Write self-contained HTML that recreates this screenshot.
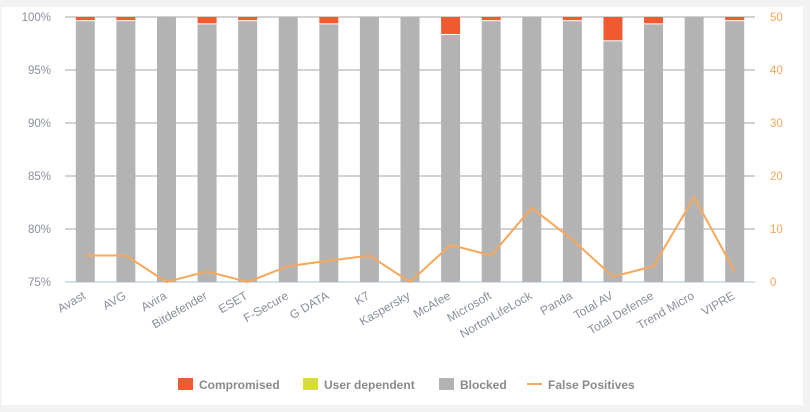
<!DOCTYPE html>
<html><head><meta charset="utf-8"><style>
html,body{margin:0;padding:0;background:#f2f2f2;}
svg{display:block;}
text{font-family:"Liberation Sans",sans-serif;}
</style></head><body>
<svg width="810" height="412" xmlns="http://www.w3.org/2000/svg">
<rect x="2" y="7" width="801" height="398" fill="#fff"/>
<g id="g"></g>
</svg>
<script>
const names=["Avast","AVG","Avira","Bitdefender","ESET","F-Secure","G DATA","K7","Kaspersky","McAfee","Microsoft","NortonLifeLock","Panda","Total AV","Total Defense","Trend Micro","VIPRE"];
const comp=[0.3,0.3,0,0.6,0.3,0,0.6,0,0,1.6,0.3,0,0.3,2.2,0.6,0,0.3];
const fp=[5,5,0,2,0,3,4,5,0,7,5,14,8,1,3,16,2];
const X0=65,X1=755,Y0=17,Y1=282,step=(X1-X0)/17,bw=19;
let s='';
for(let i=0;i<6;i++){const y=Y0+i*(Y1-Y0)/5;
 if(i<5)s+=`<line x1="${X0}" x2="${X1}" y1="${y}" y2="${y}" stroke="#c4c4c4" stroke-width="1.5"/>`;
 s+=`<text x="51" y="${y+4}" text-anchor="end" font-size="11.5" fill="#8a8f9c">${100-5*i}%</text>`;
 s+=`<text x="770" y="${y+4}" font-size="11.5" fill="#f5a55a">${50-10*i}</text>`;}
s+=`<line x1="${X0}" x2="${X1}" y1="${Y1}" y2="${Y1}" stroke="#c8d6e5" stroke-width="1.5"/>`;
const k=(Y1-Y0)/25;
let pts=[];
names.forEach((n,i)=>{const cx=X0+step*(i+0.5),x=cx-bw/2;
 const h=comp[i]*k;
 if(h>0){s+=`<rect x="${x}" y="${Y0}" width="${bw}" height="${h}" fill="#f05a30"/>`;}
 const by=Y0+h+(h>0?1:0);
 s+=`<rect x="${x}" y="${by}" width="${bw}" height="${Y1-by}" fill="#b3b3b3"/>`;
 pts.push(`${cx},${Y1-fp[i]*(Y1-Y0)/50}`);
 s+=`<text transform="translate(${cx+1},${Y1+16}) rotate(-30)" text-anchor="end" font-size="12" fill="#8a8f9c">${n}</text>`;
});
s+=`<polyline points="${pts.join(' ')}" fill="none" stroke="#f7a85a" stroke-width="2"/>`;
const L=[[178,"Compromised","#f05a30"],[303,"User dependent","#d8dc36"],[439,"Blocked","#b3b3b3"]];
L.forEach(([x,t,c])=>{s+=`<rect x="${x}" y="378" width="15" height="12" fill="${c}"/><text x="${x+21}" y="389" font-size="12" font-weight="bold" fill="#8a8a8a">${t}</text>`;});
s+=`<line x1="527" x2="542" y1="384" y2="384" stroke="#f7a85a" stroke-width="2"/><text x="548" y="389" font-size="12" font-weight="bold" fill="#8a8a8a">False Positives</text>`;
document.getElementById('g').innerHTML=s;
</script>
</body></html>
